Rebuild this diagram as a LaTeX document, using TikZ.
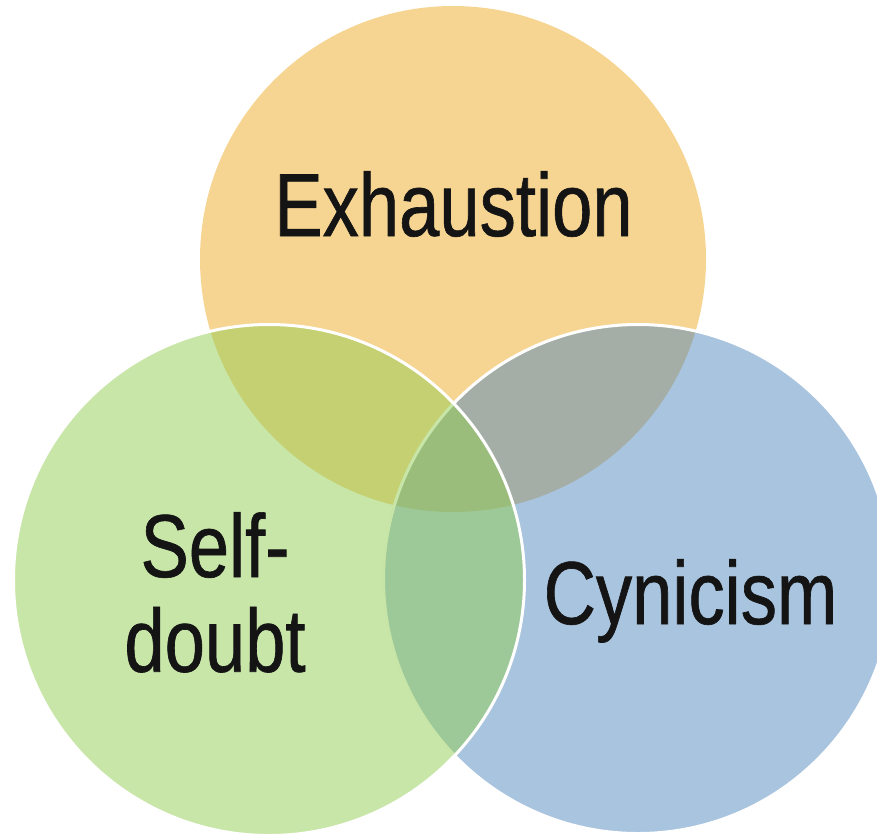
\documentclass[tikz,border=0pt]{standalone}
\usepackage{fontspec}
\newfontfamily\vennfont[FakeStretch=0.81,FakeBold=0.7]{Liberation Sans}
\definecolor{exhC}{RGB}{238,171,37}
\definecolor{cynC}{RGB}{83,137,189}
\definecolor{selfC}{RGB}{147,205,83}
\definecolor{txtC}{RGB}{20,20,20}
\begin{document}
\begin{tikzpicture}[x=1pt,y=-1pt,
  venn/.style={circle, inner sep=0pt, fill opacity=0.5, draw opacity=1},
  rim/.style={draw=white, line width=3pt},
  lbl/.style={font=\vennfont\fontsize{89.4}{94.7}\selectfont, text=txtC, inner sep=0pt, anchor=base}]
\useasboundingbox (0,0) rectangle (877,833);
\node[venn, fill=exhC, minimum size=506pt] (exh) at (453,259) {};
\node[venn, rim, fill=cynC, minimum size=509pt] (cyn) at (638,579) {};
\node[venn, rim, fill=selfC, minimum size=511pt] (self) at (269,580) {};
\node[lbl] (exhT) at (453.5,236) {Exhaustion};
\node[lbl] (selfT1) at (215,577) {Self-};
\node[lbl] (selfT2) at (215,671.7) {doubt};
\node[lbl] (cynT) at (690.5,624) {Cynicism};
\end{tikzpicture}
\end{document}
